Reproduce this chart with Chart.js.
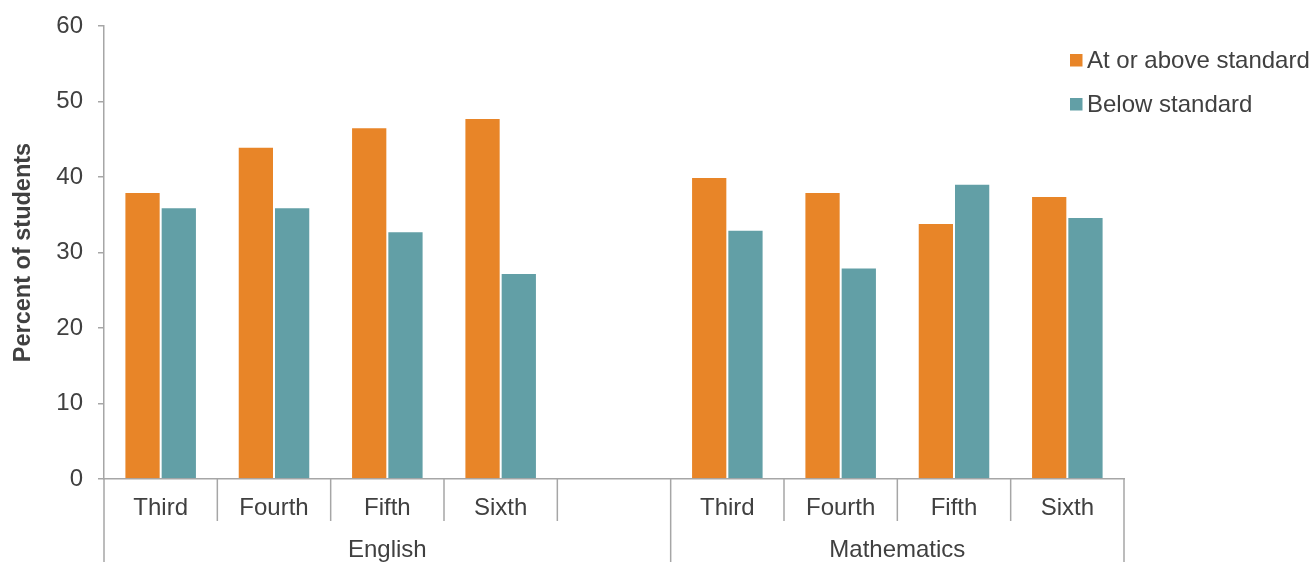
<!DOCTYPE html>
<html>
<head>
<meta charset="utf-8">
<script src="https://cdn.jsdelivr.net/npm/chart.js@4/dist/chart.umd.min.js"></script>
<style>
  html, body { margin: 0; padding: 0; background: #fff; }
  #wrap { width: 1312px; height: 562px; }
</style>
</head>
<body>
<div id="wrap"><canvas id="grafico" width="1312" height="562"></canvas></div>
<script>
const categorias = ["Third", "Fourth", "Fifth", "Sixth", "", "Third", "Fourth", "Fifth", "Sixth"];
const grupos = ["English", "Mathematics"];
const tamanhoGrupos = [5, 4];

const acimaPadrao = [38, 44, 46.6, 47.8, null, 40, 38, 33.9, 37.5];
const abaixoPadrao = [36, 36, 32.8, 27.3, null, 33, 28, 39.1, 34.7];

const ticksY = [0, 10, 20, 30, 40, 50, 60];

const corEixo = "#a6a6a6";
const corTexto = "#404040";
const fonte = "'Liberation Sans', Arial, sans-serif";
const tamFonte = 24;

// separadores do eixo x + rótulos de grupo + legenda
const eixoCategorias = {
  id: "eixoCategorias",
  afterDraw(chart) {
    const ctx = chart.ctx;
    const x = chart.scales.x;
    const area = chart.chartArea;
    const n = categorias.length;
    const passo = (x.right - x.left) / n;

    const limitesGrupo = [0];
    let acc = 0;
    tamanhoGrupos.forEach((t) => { acc += t; limitesGrupo.push(acc); });

    ctx.save();
    ctx.strokeStyle = corEixo;
    ctx.lineWidth = 1.5;
    for (let i = 0; i <= n; i++) {
      const px = x.getPixelForValue(i) - passo / 2;
      const longo = limitesGrupo.includes(i);
      ctx.beginPath();
      ctx.moveTo(px, area.bottom);
      ctx.lineTo(px, longo ? chart.height : area.bottom + 42);
      ctx.stroke();
    }

    ctx.fillStyle = corTexto;
    ctx.font = tamFonte + "px " + fonte;
    ctx.textAlign = "center";
    ctx.textBaseline = "middle";
    let inicio = 0;
    grupos.forEach((g, gi) => {
      const fim = inicio + tamanhoGrupos[gi];
      const x0 = x.getPixelForValue(inicio) - passo / 2;
      const x1 = x.getPixelForValue(fim - 1) + passo / 2;
      ctx.fillText(g, (x0 + x1) / 2, area.bottom + 71);
      inicio = fim;
    });

    // legenda
    ctx.textAlign = "left";
    chart.data.datasets.forEach((ds, i) => {
      const cy = 60 + i * 44;
      ctx.fillStyle = ds.backgroundColor;
      ctx.fillRect(area.right - 54, cy - 6, 12.5, 12.5);
      ctx.fillStyle = corTexto;
      ctx.fillText(ds.label, area.right - 37, cy + 1);
    });
    ctx.restore();
  }
};

new Chart(document.getElementById("grafico"), {
  type: "bar",
  data: {
    labels: categorias,
    datasets: [
      {
        label: "At or above standard",
        data: acimaPadrao,
        backgroundColor: "#e88528",
        borderColor: "rgba(255,255,255,0.35)",
        borderWidth: 1,
        categoryPercentage: 0.64,
        barPercentage: 1.0,
      },
      {
        label: "Below standard",
        data: abaixoPadrao,
        backgroundColor: "#629fa6",
        borderColor: "rgba(255,255,255,0.35)",
        borderWidth: 1,
        categoryPercentage: 0.64,
        barPercentage: 1.0,
      },
    ],
  },
  options: {
    responsive: false,
    animation: false,
    layout: { padding: { top: 26, right: 188, bottom: 0, left: 0 } },
    plugins: {
      legend: { display: false },
      tooltip: { enabled: false },
    },
    scales: {
      x: {
        offset: true,
        grid: { display: false, offset: true },
        border: { display: true, color: corEixo, width: 1.5 },
        ticks: {
          color: corTexto,
          font: { size: tamFonte, family: fonte },
          padding: 7,
          maxRotation: 0,
          autoSkip: false,
        },
        afterFit: (s) => { s.height = 83; },
      },
      y: {
        min: 0,
        max: 60,
        afterBuildTicks: (s) => { s.ticks = ticksY.map((v) => ({ value: v })); },
        grid: {
          display: true,
          drawOnChartArea: false,
          drawTicks: true,
          tickLength: 6,
          color: corEixo,
          lineWidth: 1.5,
        },
        border: { display: true, color: corEixo, width: 1.5 },
        ticks: {
          color: corTexto,
          font: { size: tamFonte, family: fonte },
          padding: 15,
        },
        title: {
          display: true,
          text: "Percent of students",
          color: corTexto,
          font: { size: 23.5, weight: "bold", family: fonte },
          padding: { top: 9, bottom: 0 },
        },
        afterFit: (s) => {
          s.width = 104;
          s.paddingTop = 0;
          s.paddingBottom = 0;
        },
      },
    },
  },
  plugins: [eixoCategorias],
});
</script>
</body>
</html>
